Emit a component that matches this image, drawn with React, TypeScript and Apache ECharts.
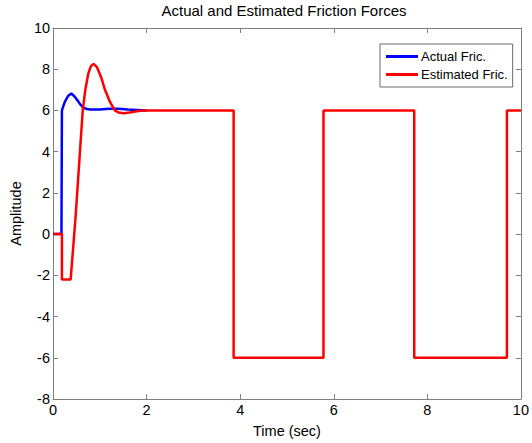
import React, { useEffect, useRef } from "react";
import * as echarts from "echarts";

const xTicks = [0, 2, 4, 6, 8, 10];
const yTicks = [-8, -6, -4, -2, 0, 2, 4, 6, 8, 10];

// early transient of the actual friction (time, value)
const actualT = [0, 0.18, 0.19, 0.25, 0.32, 0.39, 0.45, 0.52, 0.58, 0.64, 0.72, 0.8, 1.0, 1.2, 1.4, 1.6, 2.0];
const actualV = [0, 0, 6.0, 6.4, 6.7, 6.82, 6.7, 6.5, 6.3, 6.15, 6.07, 6.05, 6.05, 6.08, 6.08, 6.04, 6.0];

// early transient of the estimated friction (time, value)
const estT = [0, 0.19, 0.19, 0.377, 0.48, 0.635, 0.69, 0.755, 0.81, 0.866, 0.94, 1.03, 1.11, 1.22, 1.32, 1.4, 1.51, 1.64, 1.78, 1.95];
const estV = [0, 0, -2.2, -2.2, 0.77, 6.0, 7.0, 7.8, 8.15, 8.26, 8.1, 7.6, 7.0, 6.4, 6.0, 5.9, 5.86, 5.9, 5.96, 6.0];

// square wave part (covered by the estimate, drawn on top)
const switchTimes = [3.86, 5.78, 7.72, 9.7];
const switchLevels = [6, -6, 6, -6, 6];
const endTime = 10;

function buildSeries(ts: number[], vs: number[], withSquare: boolean) {
  const pts: number[][] = ts.map((t, i) => [t, vs[i]]);
  if (!withSquare) return pts;
  for (let i = 0; i < switchTimes.length; i++) {
    pts.push([switchTimes[i], switchLevels[i]]);
    pts.push([switchTimes[i], switchLevels[i + 1]]);
  }
  pts.push([endTime, switchLevels[switchLevels.length - 1]]);
  return pts;
}

const FONT = "'Liberation Sans', Arial, sans-serif";

export default function App() {
  const ref = useRef<HTMLDivElement>(null);
  useEffect(() => {
    if (!ref.current) return;
    const chart = echarts.init(ref.current, undefined, { renderer: "svg" });
    const axisLine = { show: true, onZero: false, lineStyle: { color: "#7f7f7f", width: 1 } };
    const tickInside = { show: true, inside: true, length: 5, lineStyle: { color: "#7f7f7f" } };
    chart.setOption({
      animation: false,
      backgroundColor: "#ffffff",
      textStyle: { fontFamily: FONT },
      title: {
        text: "Actual and Estimated Friction Forces",
        left: 284,
        top: 3,
        padding: 0,
        textAlign: "center",
        textStyle: { fontFamily: FONT, fontSize: 15, fontWeight: "normal", color: "#000" },
      },
      legend: {
        orient: "vertical",
        left: 380,
        top: 44,
        backgroundColor: "#fff",
        borderColor: "#6a6a6a",
        borderWidth: 1,
        padding: [6, 5, 6, 6],
        itemGap: 5,
        itemWidth: 32,
        itemHeight: 3,
        icon: "rect",
        textStyle: { fontFamily: FONT, fontSize: 13, color: "#000", padding: [0, 0, 0, -2] },
        data: ["Actual Fric.", "Estimated Fric."],
      },
      grid: { left: 47, right: 8, top: 28, bottom: 40 },
      xAxis: [
        {
          type: "value",
          min: xTicks[0],
          max: xTicks[xTicks.length - 1],
          interval: 2,
          name: "Time (sec)",
          nameLocation: "middle",
          nameGap: 24,
          nameTextStyle: { fontFamily: FONT, fontSize: 14.5, color: "#000" },
          axisLine,
          axisTick: tickInside,
          axisLabel: { fontFamily: FONT, fontSize: 14.5, color: "#000", margin: 3 },
          splitLine: { show: false },
        },
        {
          type: "value",
          position: "top",
          min: xTicks[0],
          max: xTicks[xTicks.length - 1],
          interval: 2,
          axisLine,
          axisTick: tickInside,
          axisLabel: { show: false },
          splitLine: { show: false },
        },
      ],
      yAxis: [
        {
          type: "value",
          min: yTicks[0],
          max: yTicks[yTicks.length - 1],
          interval: 2,
          name: "Amplitude",
          nameLocation: "middle",
          nameGap: 28,
          nameTextStyle: { fontFamily: FONT, fontSize: 14.5, color: "#000" },
          axisLine,
          axisTick: tickInside,
          axisLabel: { fontFamily: FONT, fontSize: 14.5, color: "#000", margin: 3 },
          splitLine: { show: false },
        },
        {
          type: "value",
          position: "right",
          min: yTicks[0],
          max: yTicks[yTicks.length - 1],
          interval: 2,
          axisLine,
          axisTick: tickInside,
          axisLabel: { show: false },
          splitLine: { show: false },
        },
      ],
      series: [
        {
          name: "Actual Fric.",
          type: "line",
          showSymbol: false,
          symbol: "none",
          color: "#0000ff",
          lineStyle: { color: "#0000ff", width: 2.5 },
          data: buildSeries(actualT, actualV, false),
          z: 2,
        },
        {
          name: "Estimated Fric.",
          type: "line",
          showSymbol: false,
          symbol: "none",
          color: "#ff0000",
          lineStyle: { color: "#ff0000", width: 2.5 },
          data: buildSeries(estT, estV, true),
          z: 3,
        },
      ],
    });
    return () => chart.dispose();
  }, []);
  return <div ref={ref} style={{ width: 532, height: 443, position: "absolute", left: 0, top: 0 }} />;
}
